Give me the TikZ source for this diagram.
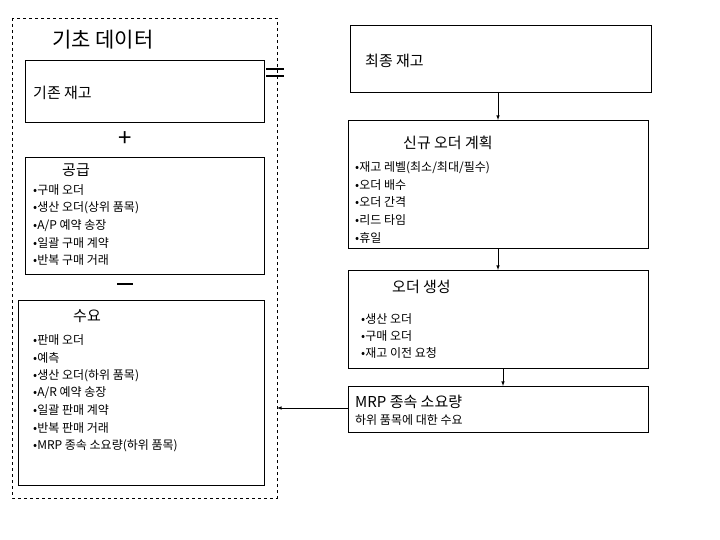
\documentclass[tikz,border=0pt]{standalone}
\usepackage{fontspec}
\setmainfont{Noto Sans CJK KR}
\begin{document}
\begin{tikzpicture}[x=1pt,y=-1pt,
  box/.style={draw,line width=0.8pt},
  item/.style={anchor=west,inner sep=0,font=\fontsize{12}{14}\selectfont},
  ttl/.style={anchor=west,inner sep=0,font=\fontsize{15}{17}\selectfont},
  arr/.style={-latex,line width=0.6pt}]
\useasboundingbox (0,0) rectangle (720,540);
\draw[dashed,line width=0.6pt] (12,18) rectangle (277,498);
\node[anchor=west,inner sep=0,font=\fontsize{21}{24}\selectfont] (t) at (52,40) {기초 데이터};
\draw[box] (25,60) rectangle (264,122);
\node[ttl] (a) at (33,93) {기존 재고};
\node[font=\fontsize{24}{24}\selectfont] (p) at (125,139) {+};
\draw[box] (25,157) rectangle (264,274);
\node[ttl] (s) at (62,170) {공급};
\foreach \t [count=\i] in {구매 오더,생산 오더(상위 품목),A/P 예약 송장,일괄 구매 계약,반복 구매 거래}
  \node[item] (s\i) at (33,173+17.5*\i) {•\t};
\draw[line width=1.2pt] (117,284) -- (133,284);
\draw[box] (18,300) rectangle (264,485);
\node[ttl] (d) at (73,316) {수요};
\foreach \t [count=\i] in {판매 오더,예측,생산 오더(하위 품목),A/R 예약 송장,일괄 판매 계약,반복 판매 거래,MRP 종속 소요량(하위 품목)}
  \node[item] (d\i) at (33,323+17.5*\i) {•\t};
\draw[line width=1.2pt] (266,69) -- (284,69) (266,76) -- (284,76);
\draw[box] (350,25) rectangle (651,92);
\node[ttl] (f) at (365,61) {최종 재고};
\draw[box] (348,120) rectangle (648,248);
\node[ttl] (n) at (403,143) {신규 오더 계획};
\foreach \t [count=\i] in {재고 레벨(최소/최대/필수),오더 배수,오더 간격,리드 타임,휴일}
  \node[item] (n\i) at (355,150+17.5*\i) {•\t};
\draw[box] (348,270) rectangle (648,368);
\node[ttl] (o) at (392,287) {오더 생성};
\foreach \t [count=\i] in {생산 오더,구매 오더,재고 이전 요청}
  \node[item] (o\i) at (361,302+17*\i) {•\t};
\draw[box] (348,386) rectangle (648,432);
\node[ttl] (m) at (355,402) {MRP 종속 소요량};
\node[item] (m2) at (355,420) {하위 품목에 대한 수요};
\coordinate (c1) at (498,92); \coordinate (c2) at (498,120);
\coordinate (c3) at (498,248); \coordinate (c4) at (498,270);
\coordinate (c5) at (503,368); \coordinate (c6) at (503,386);
\coordinate (c7) at (348,408); \coordinate (c8) at (277,408);
\draw[arr] (c1) -- (c2);
\draw[arr] (c3) -- (c4);
\draw[arr] (c5) -- (c6);
\draw[arr] (c7) -- (c8);
\end{tikzpicture}
\end{document}
